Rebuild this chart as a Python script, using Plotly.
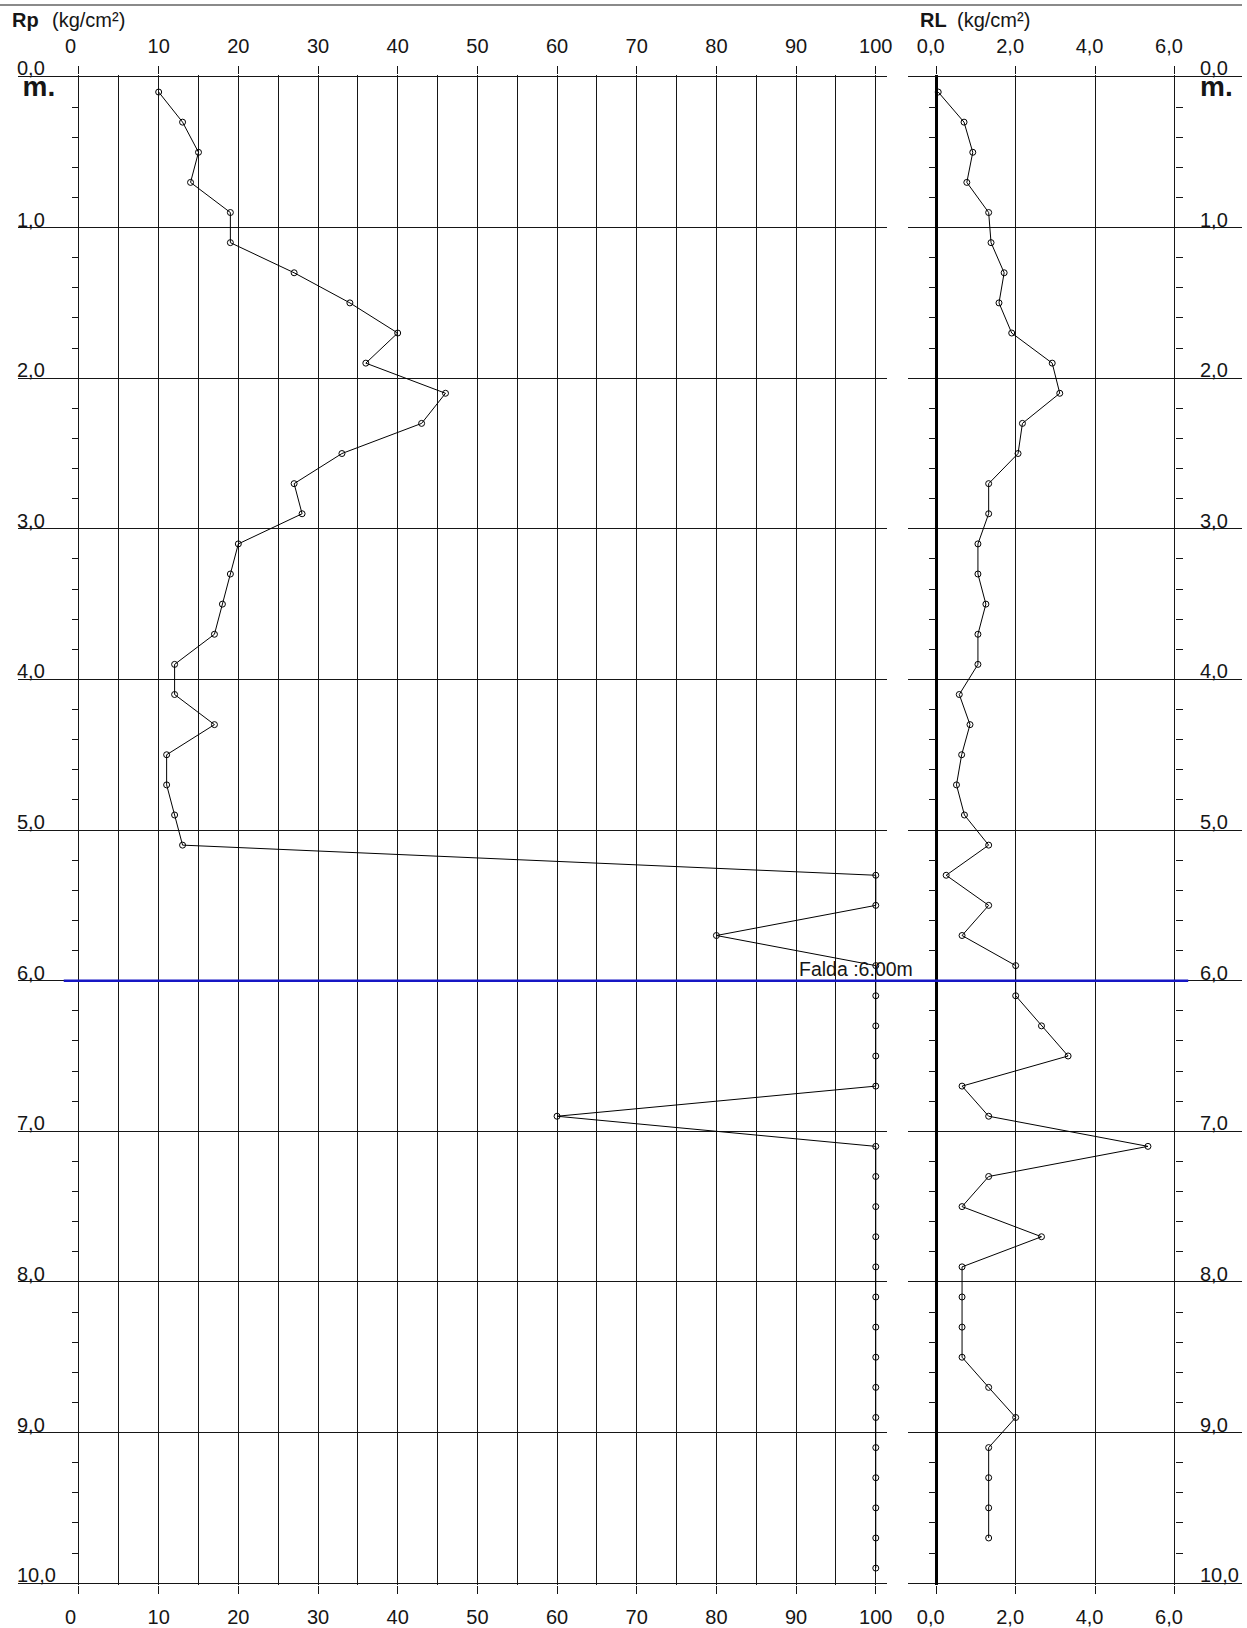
import plotly.graph_objects as go

W, H = 1247, 1628
FONT = "Liberation Sans, Arial, Helvetica, sans-serif"
INK = "#161616"

# ---------------------------------------------------------------------------
# Static cone penetration test: tip resistance Rp and lateral friction RL
# ---------------------------------------------------------------------------
rp_depth = [0.1, 0.3, 0.5, 0.7, 0.9, 1.1, 1.3, 1.5, 1.7, 1.9,
            2.1, 2.3, 2.5, 2.7, 2.9, 3.1, 3.3, 3.5, 3.7, 3.9,
            4.1, 4.3, 4.5, 4.7, 4.9, 5.1, 5.3, 5.5, 5.7, 5.9,
            6.1, 6.3, 6.5, 6.7, 6.9, 7.1, 7.3, 7.5, 7.7, 7.9,
            8.1, 8.3, 8.5, 8.7, 8.9, 9.1, 9.3, 9.5, 9.7, 9.9]
rp_kgcm2 = [10, 13, 15, 14, 19, 19, 27, 34, 40, 36,
            46, 43, 33, 27, 28, 20, 19, 18, 17, 12,
            12, 17, 11, 11, 12, 13, 100, 100, 80, 100,
            100, 100, 100, 100, 60, 100, 100, 100, 100, 100,
            100, 100, 100, 100, 100, 100, 100, 100, 100, 100]

rl_depth = [0.1, 0.3, 0.5, 0.7, 0.9, 1.1, 1.3, 1.5, 1.7, 1.9,
            2.1, 2.3, 2.5, 2.7, 2.9, 3.1, 3.3, 3.5, 3.7, 3.9,
            4.1, 4.3, 4.5, 4.7, 4.9, 5.1, 5.3, 5.5, 5.7, 5.9,
            6.1, 6.3, 6.5, 6.7, 6.9, 7.1, 7.3, 7.5, 7.7, 7.9,
            8.1, 8.3, 8.5, 8.7, 8.9, 9.1, 9.3, 9.5, 9.7]
rl_kgcm2 = [0.05, 0.70, 0.92, 0.77, 1.32, 1.38, 1.71, 1.58, 1.90, 2.92,
            3.11, 2.17, 2.06, 1.32, 1.32, 1.05, 1.05, 1.25, 1.05, 1.05,
            0.58, 0.85, 0.64, 0.51, 0.71, 1.32, 0.25, 1.32, 0.65, 2.00,
            2.00, 2.65, 3.32, 0.65, 1.32, 5.33, 1.32, 0.65, 2.65, 0.65,
            0.65, 0.65, 0.65, 1.32, 2.00, 1.32, 1.32, 1.32, 1.32]

falda_depth = 6.0
falda_label = "Falda :6.00m"

rp_ticks = [0, 10, 20, 30, 40, 50, 60, 70, 80, 90, 100]
rp_tick_text = ["0\u00a0\u00a0\u00a0", "10", "20", "30", "40", "50",
                "60", "70", "80", "90", "100"]
rp_minor = [5, 15, 25, 35, 45, 55, 65, 75, 85, 95]

rl_ticks = [0, 2, 4, 6]
rl_tick_text = ["0,0\u00a0\u00a0", "2,0\u00a0\u00a0", "4,0\u00a0\u00a0", "6,0\u00a0\u00a0"]

depth_major = [0, 1, 2, 3, 4, 5, 6, 7, 8, 9, 10]
depth_labels = ["0,0", "1,0", "2,0", "3,0", "4,0", "5,0",
                "6,0", "7,0", "8,0", "9,0", "10,0"]
depth_unit = "m."
depth_minor = [round(d + f, 1) for d in range(10) for f in (0.2, 0.4, 0.6, 0.8)]


# ---------------------------------------------------------------------------
# Page geometry (pixels on the 1247 x 1628 sheet)
# ---------------------------------------------------------------------------
def fx(px):
    return px / W


def fy(px):
    return 1 - px / H


Y_TOP, Y_BOT = 77.3, 1590.0          # depth 0 m and 10 m
PX_PER_M = (Y_BOT - Y_TOP) / 10.0
PAD_M = 0.01                         # keeps the 0 m / 10 m lines inside the range
y_range = [10 + PAD_M, -PAD_M]
y_domain = [fy(Y_BOT + PAD_M * PX_PER_M), fy(Y_TOP - PAD_M * PX_PER_M)]

RP_L, RP_R, RP_ZERO, RP_SCALE = 18.0, 891.0, 79.3, 8.0        # px, px/unit
RL_L, RL_R, RL_ZERO, RL_SCALE = 912.0, 1246.5, 940.0, 39.88
rp_range = [(RP_L - RP_ZERO) / RP_SCALE, (RP_R - RP_ZERO) / RP_SCALE]
rl_range = [(RL_L - RL_ZERO) / RL_SCALE, (RL_R - RL_ZERO) / RL_SCALE]
RL_RIGHT_EDGE = RL_ZERO + 6 * RL_SCALE

grid = dict(showgrid=True, gridcolor=INK, gridwidth=1)
tickfont = dict(family=FONT, size=20, color=INK)

fig = go.Figure()

fig.add_trace(go.Scatter(
    x=rp_kgcm2, y=rp_depth, xaxis="x", yaxis="y", mode="lines+markers",
    line=dict(color="black", width=1),
    marker=dict(symbol="circle-open", size=6, color="black", line=dict(width=1)),
    showlegend=False, hoverinfo="x+y"))

fig.add_trace(go.Scatter(
    x=rl_kgcm2, y=rl_depth, xaxis="x2", yaxis="y2", mode="lines+markers",
    line=dict(color="black", width=1),
    marker=dict(symbol="circle-open", size=6, color="black", line=dict(width=1)),
    showlegend=False, hoverinfo="x+y"))

# empty traces register the companion axes (bottom scales, right-hand ticks)
for xa, ya in (("x3", "y"), ("x4", "y2"), ("x2", "y4")):
    fig.add_trace(go.Scatter(x=[], y=[], xaxis=xa, yaxis=ya,
                             showlegend=False, hoverinfo="skip"))

top_axis = dict(side="top", ticks="outside", ticklen=8, tickwidth=1, tickcolor=INK,
                tickfont=tickfont, ticklabelstandoff=5, showline=False,
                fixedrange=True)
bottom_axis = dict(side="bottom", ticks="outside", ticklen=8, tickwidth=1,
                   tickcolor=INK, tickfont=tickfont, ticklabelstandoff=6,
                   showline=False, showgrid=False, zeroline=False, fixedrange=True)

fig.update_layout(
    width=W, height=H, autosize=False,
    margin=dict(l=0, r=0, t=0, b=0, pad=0),
    paper_bgcolor="white", plot_bgcolor="white",
    font=dict(family=FONT, size=20, color=INK),
    showlegend=False,
    xaxis=dict(domain=[fx(RP_L), fx(RP_R)], range=rp_range, anchor="y",
               tickmode="array", tickvals=rp_ticks, ticktext=rp_tick_text,
               zeroline=True, zerolinecolor=INK, zerolinewidth=1,
               minor=dict(tickmode="array", tickvals=rp_minor, ticks="",
                          showgrid=True, gridcolor=INK, gridwidth=1),
               **grid, **top_axis),
    xaxis3=dict(overlaying="x", range=rp_range, anchor="y",
                tickmode="array", tickvals=rp_ticks, ticktext=rp_tick_text,
                **bottom_axis),
    xaxis2=dict(domain=[fx(RL_L), fx(RL_R)], range=rl_range, anchor="y2",
                tickmode="array", tickvals=rl_ticks, ticktext=rl_tick_text,
                zeroline=True, zerolinecolor="black", zerolinewidth=2.6,
                **grid, **top_axis),
    xaxis4=dict(overlaying="x2", range=rl_range, anchor="y2",
                tickmode="array", tickvals=rl_ticks, ticktext=rl_tick_text,
                **bottom_axis),
    yaxis=dict(domain=y_domain, range=y_range, anchor="free", position=fx(RP_ZERO),
               side="left", tickmode="array", tickvals=depth_major,
               showticklabels=False, ticks="",
               zeroline=True, zerolinecolor=INK, zerolinewidth=1,
               minor=dict(tickmode="array", tickvals=depth_minor, ticks="outside",
                          ticklen=7, tickwidth=1, tickcolor=INK, showgrid=False),
               fixedrange=True, **grid),
    yaxis2=dict(domain=y_domain, range=y_range, anchor="free", position=fx(RL_ZERO),
                side="left", tickmode="array", tickvals=depth_major,
                showticklabels=False, ticks="",
                zeroline=True, zerolinecolor=INK, zerolinewidth=1,
                minor=dict(tickmode="array", tickvals=depth_minor, ticks="outside",
                           ticklen=7, tickwidth=1, tickcolor=INK, showgrid=False),
                fixedrange=True, **grid),
    yaxis4=dict(overlaying="y2", range=y_range, anchor="free",
                position=fx(RL_RIGHT_EDGE), side="right", tickmode="array",
                tickvals=depth_major, showticklabels=False, ticks="",
                showgrid=False, zeroline=False,
                minor=dict(tickmode="array", tickvals=depth_minor, ticks="outside",
                           ticklen=7, tickwidth=1, tickcolor=INK, showgrid=False),
                fixedrange=True),
)

# sheet border line and water table
fig.add_shape(type="line", xref="paper", yref="paper", x0=0, x1=1,
              y0=fy(5), y1=fy(5), line=dict(color=INK, width=1.2))
fig.add_shape(type="line", xref="paper", yref="y", x0=fx(64), x1=fx(1193),
              y0=falda_depth, y1=falda_depth, layer="above",
              line=dict(color="#1616c4", width=2.6))


def text(t, x_px, y, yref, size, bold=False, yshift=0, xanchor="left", yanchor="bottom"):
    fig.add_annotation(text=f"<b>{t}</b>" if bold else t, x=fx(x_px), xref="paper",
                       y=y, yref=yref, xanchor=xanchor, yanchor=yanchor,
                       yshift=yshift, showarrow=False, align="left",
                       font=dict(family=FONT, size=size, color=INK))


def span(t, size):
    return f"<span style='font-size:{size}px'>{t}</span>"


# depth labels sitting on their grid lines, both sides; the surface label
# carries the bold unit "m." on a second line (line pitch = 1.3 x 16.2 px)
for d, lab in zip(depth_major, depth_labels):
    if d == 0:
        unit = span(f"<b>{depth_unit}</b>", 28)
        text(span(lab, 20) + "<br>" + span("\u00a0", 20) + unit,
             15, d, "y", 16.2, yshift=-27.4)
        text(span(lab, 20) + "<br>" + unit, 1203, d, "y", 16.2, yshift=-27.4)
    else:
        text(lab, 15, d, "y", 20, yshift=-5)
        text(lab, 1203, d, "y", 20, yshift=-5)

# panel titles
text("Rp", 10, fy(33), "paper", 20, bold=True)
text("(kg/cm²)", 50, fy(33), "paper", 20)
text("RL", 922, fy(33), "paper", 20, bold=True)
text("(kg/cm²)", 959, fy(33), "paper", 20)

# water table note
text(falda_label, 800, falda_depth, "y", 19.5, yshift=-1)

fig.write_html("out.html")
